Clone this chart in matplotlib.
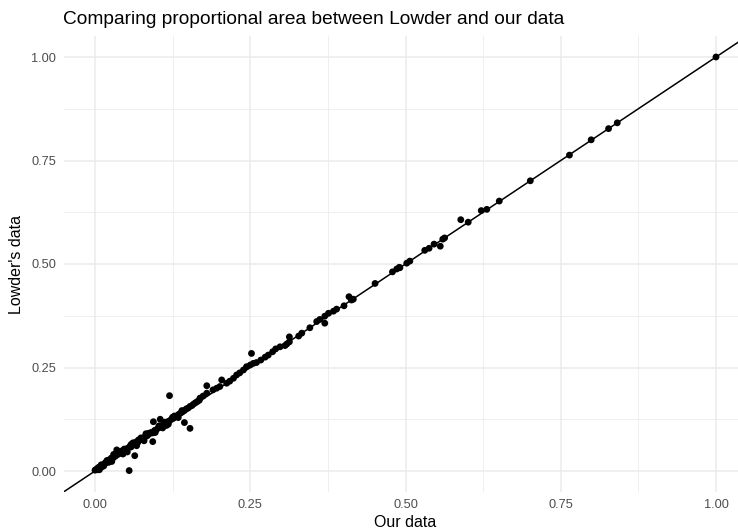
import matplotlib
matplotlib.use("Agg")
import matplotlib.pyplot as plt
import numpy as np

plt.rcParams['font.family'] = ['Liberation Sans', 'DejaVu Sans']

# Data
our_data = [
    1.000, 0.841, 0.827, 0.799, 0.764, 0.701, 0.651, 0.631, 0.622, 0.601, 0.589,
    0.563, 0.560, 0.556, 0.546, 0.538, 0.531, 0.507, 0.502, 0.491, 0.490, 0.486,
    0.479, 0.451, 0.416, 0.409, 0.413, 0.401, 0.389, 0.384, 0.376, 0.370, 0.370,
    0.362, 0.357, 0.346, 0.333, 0.328, 0.313, 0.313, 0.309, 0.306, 0.298, 0.291,
    0.286, 0.279, 0.274, 0.267, 0.260, 0.255, 0.252, 0.250, 0.244, 0.239, 0.233,
    0.228, 0.223, 0.217, 0.212, 0.204, 0.201, 0.196, 0.190, 0.180, 0.180, 0.174,
    0.169, 0.120, 0.094, 0.105, 0.144, 0.153, 0.093, 0.064, 0.055, 0.035,
    0.000, 0.002, 0.004, 0.006, 0.008, 0.010, 0.012, 0.015, 0.018, 0.020, 0.022,
    0.025, 0.028, 0.030, 0.033, 0.036, 0.038, 0.040, 0.043, 0.046, 0.048, 0.050,
    0.053, 0.056, 0.058, 0.060, 0.063, 0.066, 0.069, 0.072, 0.075, 0.078, 0.081,
    0.084, 0.087, 0.090, 0.093, 0.096, 0.099, 0.102, 0.105, 0.108, 0.111, 0.114,
    0.117, 0.120, 0.123, 0.126, 0.129, 0.132, 0.135, 0.138, 0.141, 0.144, 0.147,
    0.150, 0.153, 0.156, 0.159, 0.162, 0.165, 0.168, 0.030, 0.042, 0.047, 0.061,
    0.070, 0.082, 0.010, 0.014, 0.005, 0.019, 0.026, 0.115, 0.125,
    0.052, 0.058, 0.067, 0.074, 0.079, 0.086, 0.097, 0.103, 0.109, 0.112, 0.118,
    0.128, 0.134, 0.140, 0.021, 0.027, 0.034, 0.045, 0.016, 0.007,
]
lowder_data = [
    1.000, 0.841, 0.827, 0.800, 0.763, 0.701, 0.652, 0.632, 0.629, 0.601, 0.607,
    0.563, 0.560, 0.543, 0.548, 0.538, 0.533, 0.507, 0.502, 0.491, 0.492, 0.488,
    0.481, 0.453, 0.415, 0.421, 0.413, 0.399, 0.391, 0.386, 0.381, 0.374, 0.357,
    0.366, 0.361, 0.346, 0.333, 0.326, 0.324, 0.312, 0.307, 0.303, 0.300, 0.295,
    0.288, 0.280, 0.275, 0.268, 0.262, 0.260, 0.284, 0.256, 0.252, 0.244, 0.237,
    0.232, 0.224, 0.217, 0.212, 0.220, 0.204, 0.200, 0.196, 0.206, 0.188, 0.181,
    0.176, 0.182, 0.119, 0.125, 0.117, 0.103, 0.071, 0.037, 0.001, 0.051,
    0.002, 0.004, 0.003, 0.008, 0.010, 0.009, 0.014, 0.016, 0.020, 0.022, 0.021,
    0.027, 0.030, 0.033, 0.036, 0.040, 0.041, 0.045, 0.046, 0.048, 0.052, 0.053,
    0.055, 0.059, 0.058, 0.063, 0.066, 0.070, 0.069, 0.075, 0.077, 0.080, 0.083,
    0.085, 0.089, 0.093, 0.092, 0.098, 0.100, 0.104, 0.106, 0.110, 0.113, 0.115,
    0.119, 0.121, 0.125, 0.127, 0.131, 0.133, 0.137, 0.140, 0.143, 0.146, 0.150,
    0.152, 0.156, 0.158, 0.162, 0.165, 0.168, 0.171, 0.040, 0.048, 0.053, 0.068,
    0.075, 0.090, 0.015, 0.012, 0.008, 0.025, 0.031, 0.110, 0.130,
    0.046, 0.064, 0.061, 0.080, 0.073, 0.091, 0.093, 0.109, 0.104, 0.118, 0.113,
    0.133, 0.129, 0.146, 0.026, 0.023, 0.040, 0.041, 0.019, 0.003,
]
x_ticks = [0.00, 0.25, 0.50, 0.75, 1.00]
y_ticks = [0.00, 0.25, 0.50, 0.75, 1.00]
minor_ticks = [0.125, 0.375, 0.625, 0.875]
title = "Comparing proportional area between Lowder and our data"
x_label = "Our data"
y_label = "Lowder's data"

W, H = 738, 531
fig = plt.figure(figsize=(W / 100, H / 100), dpi=100)
left_px, right_px, top_px, bottom_px = 64, 738, 36, 491.7
ax = fig.add_axes([left_px / W, 1 - bottom_px / H, (right_px - left_px) / W, (bottom_px - top_px) / H])

# data -> pixel mapping from reference: x0=95,x1=716 ; y0=471,y1=57
xmin = (left_px - 95) / 621
xmax = (right_px - 95) / 621
ymin = -(bottom_px - 471) / 414
ymax = (471 - top_px) / 414
ax.set_xlim(xmin, xmax)
ax.set_ylim(ymin, ymax)

grid_col = '#EBEBEB'
for t in x_ticks:
    ax.axvline(t, color=grid_col, lw=1.1, zorder=0)
for t in minor_ticks:
    ax.axvline(t, color=grid_col, lw=0.55, zorder=0)
for t in y_ticks:
    ax.axhline(t, color=grid_col, lw=1.1, zorder=0)
for t in minor_ticks:
    ax.axhline(t, color=grid_col, lw=0.55, zorder=0)

ax.scatter(our_data, lowder_data, s=24, color='black', edgecolors='none', zorder=3)
ax.axline((0, 0), slope=1, color='black', lw=1.1, zorder=2)

for s in ax.spines.values():
    s.set_visible(False)
ax.set_xticks(x_ticks)
ax.set_yticks(y_ticks)
ax.set_xticklabels([f"{t:.2f}" for t in x_ticks])
ax.set_yticklabels([f"{t:.2f}" for t in y_ticks])
ax.tick_params(axis='both', length=0, labelsize=9.2, labelcolor='#4D4D4D')
ax.tick_params(axis='x', pad=5.0)
ax.tick_params(axis='y', pad=5.8)

fig.text(63 / W, 1 - 24 / H, title, fontsize=13.8, ha='left', va='baseline', color='black')
fig.text(405 / W, 1 - 527 / H, x_label, fontsize=11.5, ha='center', va='baseline', color='black')
fig.text(17 / W, 1 - 264 / H, y_label, fontsize=11.5, ha='center', va='center', rotation=90, color='black')

fig.savefig('out.png', dpi=100)
